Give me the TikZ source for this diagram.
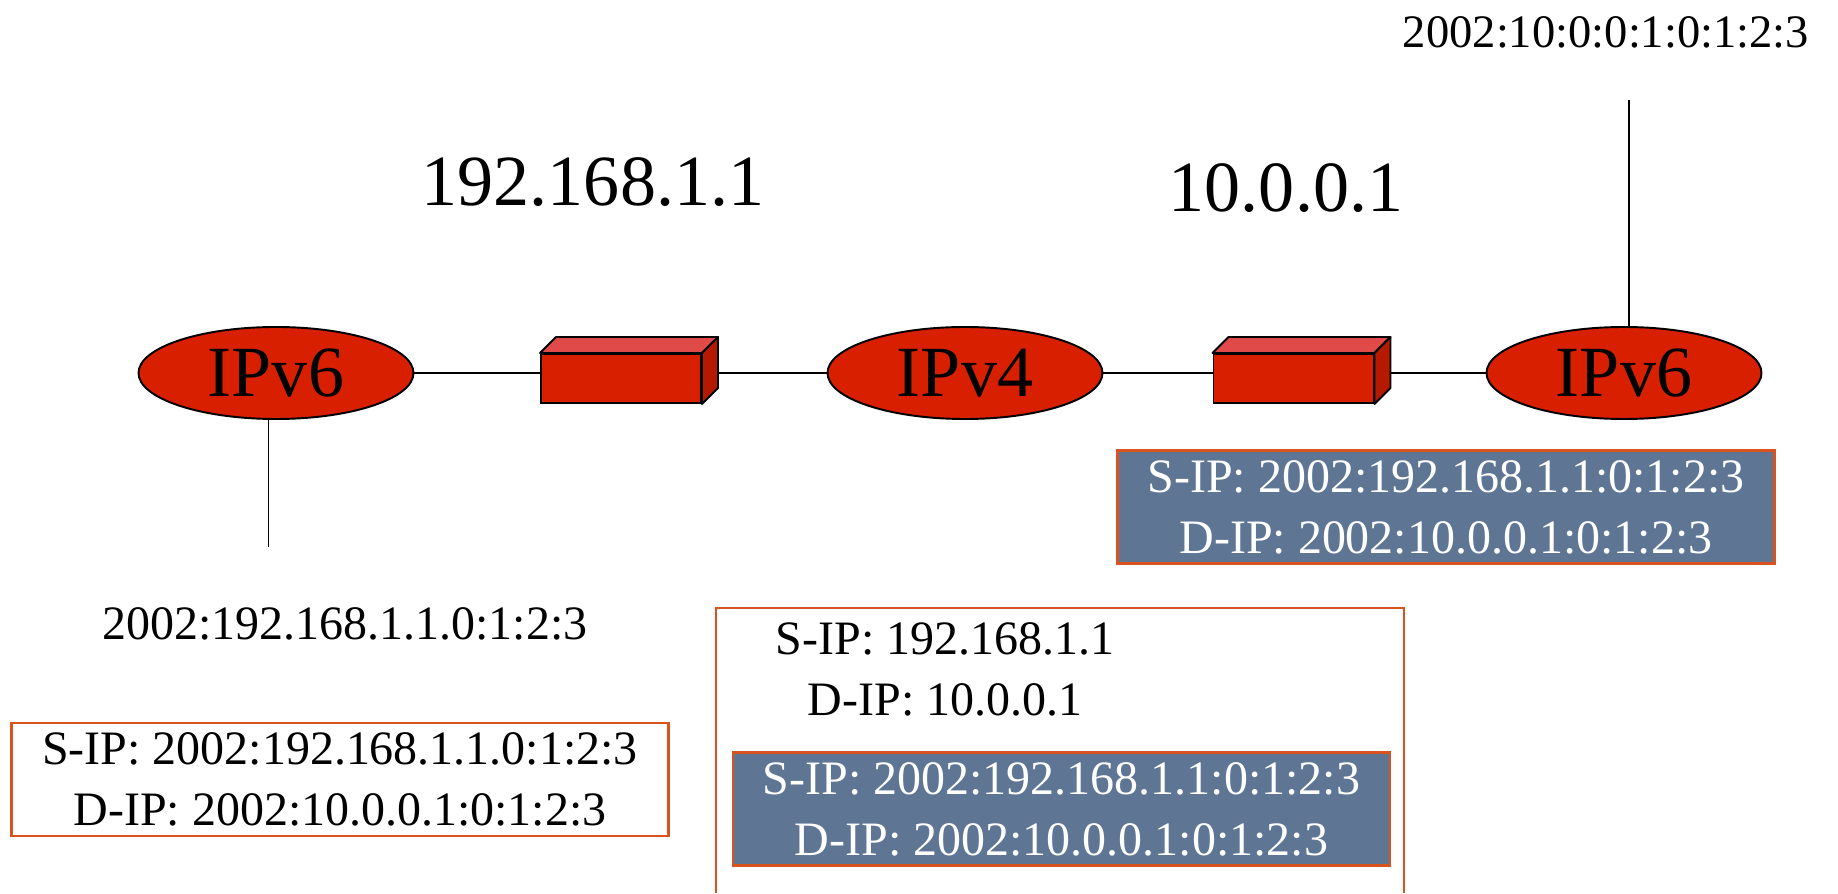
\documentclass[tikz,border=0pt]{standalone}
\usepackage{fontspec}
\setmainfont{Liberation Serif}
\usetikzlibrary{shapes.geometric}

\begin{document}
\begin{tikzpicture}[
  host/.style={ellipse, draw=black, line width=1.1pt, fill=customColor1, minimum width=5.5cm, minimum height=1.84cm, inner sep=0pt, font=\fontsize{41}{49}\selectfont},
  router/.style={draw=black, line width=1.1pt, fill=customColor1, minimum width=3.2cm, minimum height=0.98cm, inner sep=0pt},
  face/.style={draw=black, line width=1.1pt, line join=round},
  link/.style={black, line width=1.1pt},
  addr/.style={font=\fontsize{27.3}{34.7}\selectfont},
  bigaddr/.style={font=\fontsize{41}{49}\selectfont},
  pktbox/.style={draw=customColor5, line width=1.2pt, minimum width=13.14cm, minimum height=2.26cm, inner sep=0pt, align=center, addr},
  tunnel/.style={pktbox, fill=customColor4, text=white}
]

\definecolor{customColor1}{HTML}{D82000}
\definecolor{customColor2}{HTML}{E04A48}
\definecolor{customColor3}{HTML}{B51A00}
\definecolor{customColor4}{HTML}{5E7594}
\definecolor{customColor5}{HTML}{D9531E}

\useasboundingbox (0,0) rectangle (36.76,17.86);

% IPv6 host (left)
\node[host] (v6a) at (5.52, 10.4) {IPv6};

% Router 1 (front face)
\node[router] (r1) at (12.42, 10.29) {};
% Router 1 (top and side)
\coordinate (r1nw) at ([shift={(0.32,0.32)}]r1.north west);
\coordinate (r1ne) at ([shift={(0.32,0.32)}]r1.north east);
\coordinate (r1se) at ([shift={(0.32,0.32)}]r1.south east);
\filldraw[face, fill=customColor2] (r1.north west) -- (r1nw) -- (r1ne) -- (r1.north east) -- cycle;
\filldraw[face, fill=customColor3] (r1.north east) -- (r1ne) -- (r1se) -- (r1.south east) -- cycle;

% IPv4 network (middle)
\node[host] (v4) at (19.30, 10.4) {IPv4};

% Router 2 (front face)
\node[router] (r2) at (25.87, 10.29) {};
% Router 2 (top and side)
\coordinate (r2nw) at ([shift={(0.32,0.32)}]r2.north west);
\coordinate (r2ne) at ([shift={(0.32,0.32)}]r2.north east);
\coordinate (r2se) at ([shift={(0.32,0.32)}]r2.south east);
\filldraw[face, fill=customColor2] (r2.north west) -- (r2nw) -- (r2ne) -- (r2.north east) -- cycle;
\filldraw[face, fill=customColor3] (r2.north east) -- (r2ne) -- (r2se) -- (r2.south east) -- cycle;

% IPv6 host (right)
\node[host] (v6b) at (32.48, 10.4) {IPv6};

% Links
\draw[link] (v6a.east) -- (v6a.east -| r1.west);
\draw[link] (v4.west -| r1se) -- (v4.west);
\draw[link] (v4.east) -- (v4.east -| r2.west);
\draw[link] (v6b.west -| r2se) -- (v6b.west);

% Host stubs
\coordinate (hostA) at (5.37, 6.92);
\coordinate (hostB) at (32.58, 15.86);
\draw[link] (v6a.south -| hostA) -- (hostA);
\draw[link] (hostB) -- (hostB |- v6b.north);

% Addresses
\node[addr, font=\fontsize{26.5}{33}\selectfont] (lblB) at (32.12, 17.22) {2002:10:0:0:1:0:1:2:3};
\node[bigaddr] (ipA) at (11.86, 14.22) {192.168.1.1};
\node[bigaddr] (ipB) at (25.72, 14.10) {10.0.0.1};
\node[addr] (lblA) at (6.90, 5.38) {2002:192.168.1.1.0:1:2:3};

% IPv6 packet (left)
\node[pktbox] (pktA) at (6.80, 2.27) {S-IP: 2002:192.168.1.1.0:1:2:3\\D-IP: 2002:10.0.0.1:0:1:2:3};

% IPv4 packet (middle, open at the bottom)
\draw[draw=customColor5, line width=1.2pt] (14.32,0) -- (14.32,5.70) -- (28.08,5.70) -- (28.08,0);
\node[addr, align=center] (v4hdr) at (18.9, 4.48) {S-IP: 192.168.1.1\\D-IP: 10.0.0.1};
\node[tunnel] (pktB) at (21.23, 1.68) {S-IP: 2002:192.168.1.1:0:1:2:3\\D-IP: 2002:10.0.0.1:0:1:2:3};

% IPv6 packet (right)
\node[tunnel] (pktC) at (28.92, 7.72) {S-IP: 2002:192.168.1.1:0:1:2:3\\D-IP: 2002:10.0.0.1:0:1:2:3};

\end{tikzpicture}
\end{document}
